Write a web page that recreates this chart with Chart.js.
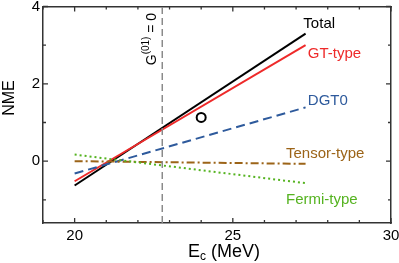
<!DOCTYPE html>
<html>
<head>
<meta charset="utf-8">
<script src="https://cdn.jsdelivr.net/npm/chart.js@4"></script>
<style>
  html, body { margin: 0; padding: 0; background: #fff; }
  #wrap { width: 399px; height: 263px; }
</style>
</head>
<body>
<div id="wrap"><canvas id="nmeChart"></canvas></div>
<script>
const ecEnds = [20, 27.3];
const total = [-0.63, 3.3];
const gtType = [-0.52, 3.0];
const dgt0 = [-0.32, 1.39];
const tensorType = [0.0, -0.07];
const fermiType = [0.17, -0.57];
const gZero = 22.77;
const expPoint = { x: 24, y: 1.13 };
const xTicks = [20, 25, 30];
const yTicks = [0, 2, 4];

const pts = (ys) => ys.map((y, i) => ({ x: ecEnds[i], y }));
const FONT = "'Liberation Sans', Arial, sans-serif";

function line(data, color, dash, w) {
  return { data, borderColor: color, borderWidth: w || 2, borderDash: dash || [],
    showLine: true, pointRadius: 0, fill: false };
}

function noOverflow(s) {
  s.paddingTop = 0; s.paddingBottom = 0; s.paddingLeft = 0; s.paddingRight = 0;
}

// inside ticks on all four sides + annotation text
const decor = {
  id: "decor",
  afterDraw(chart) {
    const { ctx, chartArea: a, scales: { x, y } } = chart;
    ctx.save();
    ctx.strokeStyle = "#333";
    ctx.lineWidth = 1.3;
    for (let v = 19; v <= 30; v++) {
      const px = x.getPixelForValue(v);
      const len = v % 5 === 0 ? 5 : 3;
      ctx.beginPath();
      ctx.moveTo(px, a.bottom); ctx.lineTo(px, a.bottom - len);
      ctx.moveTo(px, a.top); ctx.lineTo(px, a.top + len);
      ctx.stroke();
    }
    for (let v = -1; v <= 4; v++) {
      const py = y.getPixelForValue(v);
      const len = v % 2 === 0 ? 5 : 3;
      ctx.beginPath();
      ctx.moveTo(a.left, py); ctx.lineTo(a.left + len, py);
      ctx.moveTo(a.right, py); ctx.lineTo(a.right - len, py);
      ctx.stroke();
    }

    ctx.textBaseline = "middle";
    ctx.textAlign = "left";
    ctx.font = "15px " + FONT;
    const labels = [
      ["Total", 27.23, 3.56, "#000"],
      ["GT-type", 27.37, 2.78, "#ee2a2a"],
      ["DGT0", 27.37, 1.56, "#2e5a9c"],
      ["Tensor-type", 26.68, 0.2, "#9c6418"],
      ["Fermi-type", 26.68, -1.0, "#55b320"]
    ];
    labels.forEach(([t, vx, vy, c]) => {
      ctx.fillStyle = c;
      ctx.fillText(t, x.getPixelForValue(vx), y.getPixelForValue(vy));
    });

    // G^(01) = 0, rotated
    ctx.fillStyle = "#000";
    ctx.textBaseline = "alphabetic";
    ctx.translate(x.getPixelForValue(gZero) - 6, y.getPixelForValue(2.48));
    ctx.rotate(-Math.PI / 2);
    ctx.font = "14px " + FONT;
    let cx = 0;
    ctx.fillText("G", cx, 0); cx += ctx.measureText("G").width;
    ctx.font = "10px " + FONT;
    ctx.fillText("(01)", cx, -7); cx += ctx.measureText("(01)").width;
    ctx.font = "14px " + FONT;
    ctx.fillText(" = 0", cx, 0);
    ctx.restore();

    // axis titles
    ctx.save();
    ctx.fillStyle = "#000";
    ctx.textBaseline = "alphabetic";
    let sx = 188;
    const by = 257;
    ctx.font = "18px " + FONT;
    ctx.fillText("E", sx, by); sx += ctx.measureText("E").width;
    ctx.font = "12px " + FONT;
    ctx.fillText("c", sx, by + 3); sx += ctx.measureText("c").width;
    ctx.font = "18px " + FONT;
    ctx.fillText(" (MeV)", sx, by);

    ctx.translate(14, 98);
    ctx.rotate(-Math.PI / 2);
    ctx.textAlign = "center";
    ctx.font = "16px " + FONT;
    ctx.fillText("NME", 0, 0);
    ctx.restore();
  }
};

new Chart(document.getElementById("nmeChart"), {
  type: "scatter",
  data: {
    datasets: [
      line([{ x: gZero, y: -1.6 }, { x: gZero, y: 4 }], "#8a8a8a", [7, 4], 1.5),
      line(pts(fermiType), "#55b320", [2, 3]),
      line(pts(tensorType), "#9c6418", [8, 3, 2, 3]),
      line(pts(dgt0), "#2e5a9c", [9, 5]),
      line(pts(gtType), "#ee2a2a"),
      line(pts(total), "#000"),
      { data: [expPoint], pointRadius: 4.5, pointBorderWidth: 2,
        pointBorderColor: "#000", pointBackgroundColor: "rgba(0,0,0,0)", showLine: false }
    ]
  },
  options: {
    responsive: true,
    maintainAspectRatio: false,
    animation: false,
    layout: { padding: { top: 5, right: 8, left: 0, bottom: 0 } },
    plugins: { legend: { display: false }, tooltip: { enabled: false } },
    scales: {
      x: {
        type: "linear", min: 19, max: 30,
        afterFit: (s) => { s.height = 40; noOverflow(s); },
        afterBuildTicks: (s) => { s.ticks = xTicks.map(v => ({ value: v })); },
        grid: { display: false, drawTicks: false },
        border: { display: true, color: "#333", width: 1.5 },
        ticks: { color: "#000", padding: 4, font: { size: 15, family: FONT } }
      },
      y: {
        min: -1.6, max: 4,
        afterFit: (s) => { s.width = 43; noOverflow(s); },
        afterBuildTicks: (s) => { s.ticks = yTicks.map(v => ({ value: v })); },
        grid: { display: false, drawTicks: false },
        border: { display: true, color: "#333", width: 1.5 },
        ticks: { color: "#000", padding: 3, font: { size: 15, family: FONT } }
      },
      x2: {
        type: "linear", position: "top", min: 19, max: 30,
        afterFit: (s) => { s.height = 0; noOverflow(s); },
        grid: { display: false, drawTicks: false },
        border: { display: true, color: "#333", width: 1.5 },
        ticks: { display: false }
      },
      y2: {
        position: "right", min: -1.6, max: 4,
        afterFit: (s) => { s.width = 0; noOverflow(s); },
        grid: { display: false, drawTicks: false },
        border: { display: true, color: "#333", width: 1.5 },
        ticks: { display: false }
      }
    }
  },
  plugins: [decor]
});
</script>
</body>
</html>
